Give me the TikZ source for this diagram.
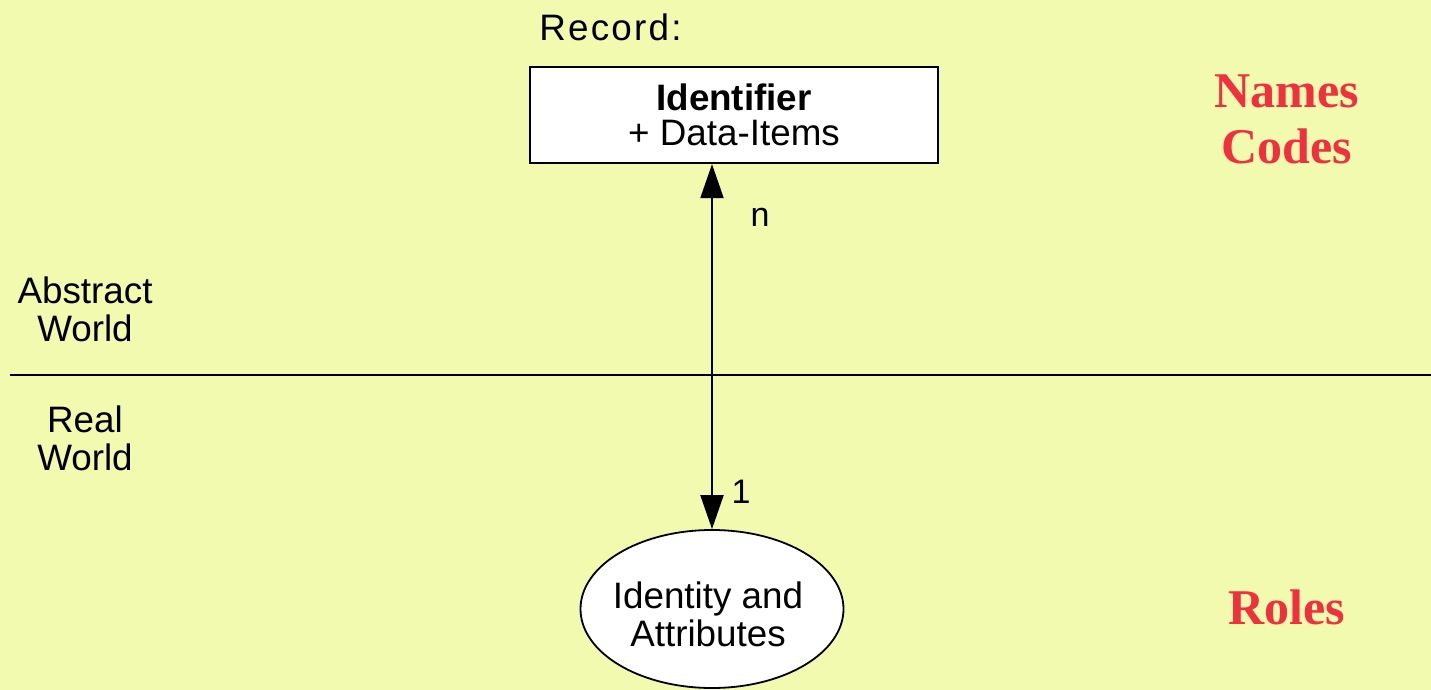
\documentclass[tikz,border=0pt]{standalone}
\usepackage{fontspec}
\setmainfont{Liberation Sans}
\newfontfamily\serifbold{Liberation Serif}
\usetikzlibrary{arrows.meta,shapes.geometric}
\definecolor{paper}{HTML}{F2FAB0}
\definecolor{tagred}{HTML}{F0303C}
\tikzset{
  txt/.style={font=\fontsize{18.4}{19}\selectfont, align=center},
  lbl/.style={txt, inner sep=0pt},
  small/.style={font=\fontsize{17}{18}\selectfont, inner sep=0pt},
  tag/.style={font=\serifbold\bfseries\fontsize{25}{28}\selectfont, text=tagred, align=center, inner sep=0pt},
  recbox/.style={txt, draw, fill=white, line width=1.1pt, minimum width=204pt, minimum height=48pt, inner sep=0pt},
  thing/.style={txt, ellipse, draw, fill=white, line width=0.9pt, minimum width=131.5pt, minimum height=79pt, inner sep=-5pt},
  link/.style={line width=1pt, {Triangle[length=17pt,width=11.5pt]}-{Triangle[length=17pt,width=11.5pt]}}
}
\begin{document}
\begin{tikzpicture}[x=0.5pt,y=-0.5pt]
  % page
  \fill[paper] (0,0) rectangle (1431,690);
  \useasboundingbox (0,0) rectangle (1431,690);

  % divider between the two worlds
  \coordinate (divL) at (10,375);
  \coordinate (divR) at (1431,375);
  \draw[line width=1pt] (divL) -- (divR);

  % world labels
  \node[lbl] (abs) at (85,309) {Abstract\\World};
  \node[lbl] (real) at (85,438) {Real\\World};

  % record
  \node[lbl, anchor=west, font=\fontsize{18.4}{19}\selectfont\addfontfeature{LetterSpace=6}] (rec) at (539,27) {Record:};
  \node[recbox] (box) at (734,115) {{\bfseries Identifier}\\[-1.5pt]+ Data-Items};

  % real-world thing
  \node[thing] (ell) at (712,609) {};
  \node[lbl] (elltext) at (708,614) {Identity and\\Attributes};

  % one-to-many link
  \draw[link] (box.south -| ell.north) -- (ell.north);
  \node[small] (n) at (760,217) {n};
  \node[small] (one) at (741,492) {1};

  % side tags
  \node[tag] (names) at (1287,119) {Names\\Codes};
  \node[tag] (roles) at (1287,607) {Roles};
\end{tikzpicture}
\end{document}
